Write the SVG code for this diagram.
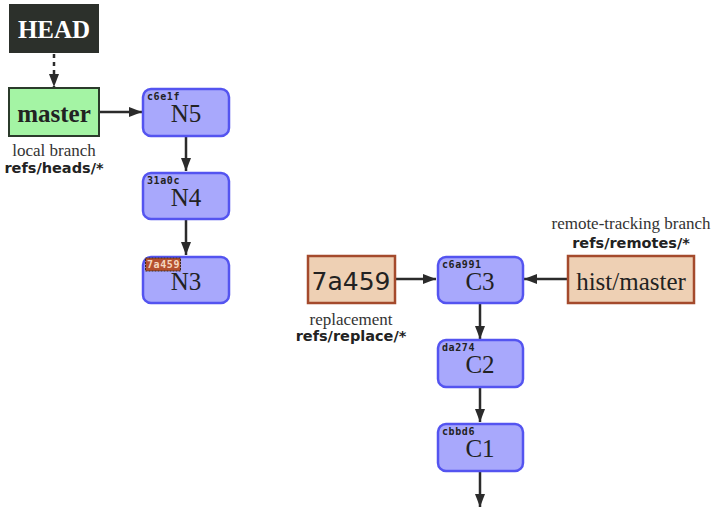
<svg xmlns="http://www.w3.org/2000/svg" width="716" height="510" viewBox="0 0 716 510">
<defs>
<marker id="ah" markerWidth="13" markerHeight="10" refX="13" refY="5" orient="auto" markerUnits="userSpaceOnUse">
<path d="M0,0 L13,5 L0,10 Z" fill="#2b2b2b"/>
</marker>
<style>
.commit{fill:#a8a8fc;stroke:#5454f0;stroke-width:2.5}
.hash{font-family:"DejaVu Sans Mono","Liberation Mono",monospace;font-size:10px;font-weight:bold;fill:#222;letter-spacing:0.6px}
.big{font-family:"Liberation Serif","DejaVu Serif",serif;font-size:25px;fill:#222;text-anchor:middle}
.cap{font-family:"Liberation Serif","DejaVu Serif",serif;font-size:17px;fill:#333;text-anchor:middle}
.ref{font-family:"DejaVu Sans","Liberation Sans",sans-serif;font-size:14.5px;font-weight:bold;fill:#222;text-anchor:middle}
.edge{stroke:#2b2b2b;stroke-width:2.5;fill:none}
.peach{fill:#eed0b4;stroke:#a44a2c;stroke-width:2.5}
</style>
</defs>
<rect width="716" height="510" fill="#ffffff"/>
<g id="connectors">
<path class="edge" d="M54,54 L54,87" stroke-dasharray="4,4" marker-end="url(#ah)"/>
<path class="edge" d="M100,112 L142,112" marker-end="url(#ah)"/>
<path class="edge" d="M186,137 L186,171" marker-end="url(#ah)"/>
<path class="edge" d="M186,220 L186,255" marker-end="url(#ah)"/>
<path class="edge" d="M395,279 L436,279" marker-end="url(#ah)"/>
<path class="edge" d="M567,279 L524,279" marker-end="url(#ah)"/>
<path class="edge" d="M480,304 L480,339" marker-end="url(#ah)"/>
<path class="edge" d="M480,388 L480,422" marker-end="url(#ah)"/>
<path class="edge" d="M480,472 L480,507" marker-end="url(#ah)"/>
</g>
<g id="HEAD">
<rect x="9" y="4" width="90" height="49" fill="#2c302b"/>
<text x="54" y="38" class="big" style="fill:#ffffff;font-weight:bold">HEAD</text>
</g>
<g id="master">
<rect x="9" y="88" width="90" height="48" fill="#a4f4a4" stroke="#2b3b2b" stroke-width="2"/>
<text x="54" y="122" class="big" style="font-weight:bold">master</text>
<text x="54" y="156" class="cap">local branch</text>
<text x="54" y="173" class="ref">refs/heads/*</text>
</g>
<g id="N5">
<rect x="143" y="89" width="86" height="47" rx="8" class="commit"/>
<text x="147" y="100" class="hash">c6e1f</text>
<text x="186" y="122" class="big">N5</text>
</g>
<g id="N4">
<rect x="143" y="173" width="86" height="46" rx="8" class="commit"/>
<text x="147" y="184" class="hash">31a0c</text>
<text x="186" y="206" class="big">N4</text>
</g>
<g id="N3">
<rect x="143" y="257" width="86" height="46" rx="8" class="commit"/>
<rect x="145.5" y="258" width="35" height="13" fill="#b4502e" stroke="#3a2a20" stroke-width="1" stroke-dasharray="2,1"/>
<text x="147" y="268" class="hash" style="fill:#f4d8c0">7a459</text>
<text x="186" y="290" class="big">N3</text>
</g>
<g id="replace">
<rect x="308" y="256" width="87" height="47" class="peach"/>
<text x="351" y="290" class="big" style="font-family:'DejaVu Sans','Liberation Sans',sans-serif">7a459</text>
<text x="351" y="325" class="cap">replacement</text>
<text x="351" y="341" class="ref">refs/replace/*</text>
</g>
<g id="C3">
<rect x="438" y="257" width="85" height="46" rx="8" class="commit"/>
<text x="442" y="268" class="hash">c6a991</text>
<text x="480" y="290" class="big">C3</text>
</g>
<g id="histmaster">
<rect x="568" y="256" width="126" height="47" class="peach"/>
<text x="631" y="290" class="big">hist/master</text>
<text x="631" y="229" class="cap">remote-tracking branch</text>
<text x="631" y="248" class="ref">refs/remotes/*</text>
</g>
<g id="C2">
<rect x="438" y="340" width="85" height="47" rx="8" class="commit"/>
<text x="442" y="351" class="hash">da274</text>
<text x="480" y="373" class="big">C2</text>
</g>
<g id="C1">
<rect x="438" y="424" width="85" height="47" rx="8" class="commit"/>
<text x="442" y="435" class="hash">cbbd6</text>
<text x="480" y="457" class="big">C1</text>
</g>
</svg>
